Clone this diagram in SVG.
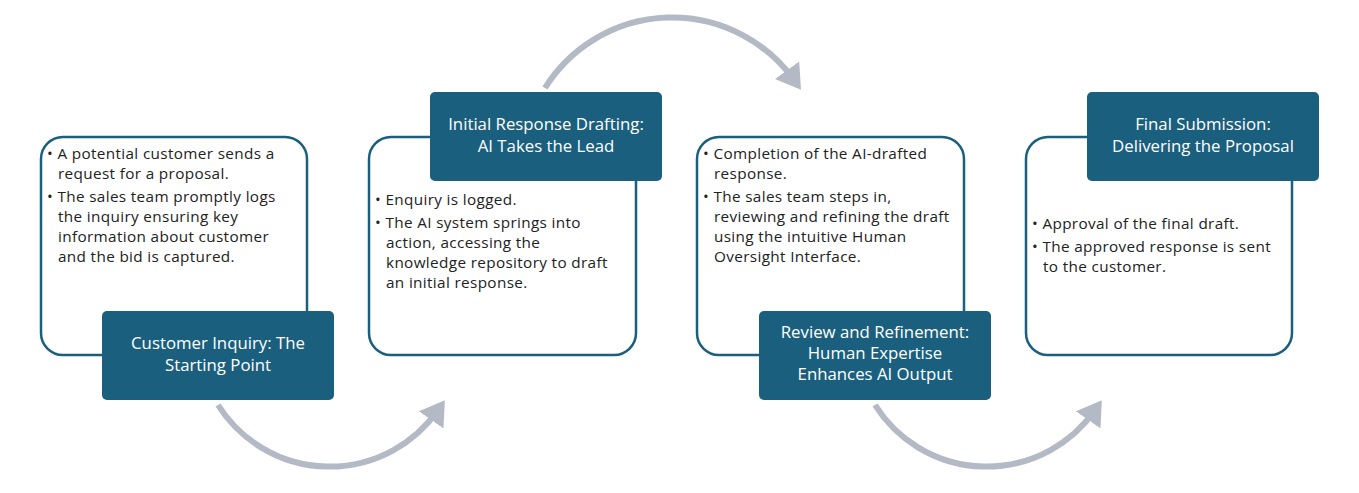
<svg xmlns="http://www.w3.org/2000/svg" width="1359" height="493" viewBox="0 0 1359 493">
<style>
.box{fill:#fff;stroke:#1b5f7e;stroke-width:2.5}
.lab{fill:#1b5f7e}
.t{font-family:"Open Sans",sans-serif;font-size:15.3px;fill:#222;letter-spacing:0.35px}
.w{font-family:"Open Sans",sans-serif;font-size:16.8px;fill:#fff;text-anchor:middle}
.arc{fill:none;stroke:#b3bac5;stroke-width:6}
</style>
<defs><marker id="ah" markerWidth="5" markerHeight="5" refX="2" refY="2.5" orient="auto" markerUnits="strokeWidth"><path d="M0,0L4,2.5L0,5z" fill="#b3bac5"/></marker></defs>
<rect width="1359" height="493" fill="#fff"/>
<g id="connectors">
<path class="arc" d="M218,405 A132,132 0 0 0 438,410" marker-end="url(#ah)"/>
<path class="arc" d="M545,88 A150,150 0 0 1 794,80" marker-end="url(#ah)"/>
<path class="arc" d="M875,405 A132,132 0 0 0 1095,410" marker-end="url(#ah)"/>
</g>
<g id="n1">
<rect class="box" x="41" y="137" width="266" height="218" rx="22"/>
<rect class="lab" x="102" y="311" width="232" height="89" rx="5"/>
<text class="t"><tspan x="47" y="159">• A potential customer sends a</tspan><tspan x="58" y="179">request for a proposal.</tspan><tspan x="47" y="202">• The sales team promptly logs</tspan><tspan x="58" y="222">the inquiry ensuring key</tspan><tspan x="58" y="242">information about customer</tspan><tspan x="58" y="262">and the bid is captured.</tspan></text>
<text class="w"><tspan x="218" y="349">Customer Inquiry: The</tspan><tspan x="218" y="371">Starting Point</tspan></text>
</g>
<g id="n2">
<rect class="box" x="369" y="137" width="267" height="218" rx="22"/>
<rect class="lab" x="430" y="92" width="232" height="89" rx="5"/>
<text class="t"><tspan x="375" y="205">• Enquiry is logged.</tspan><tspan x="375" y="228">• The AI system springs into</tspan><tspan x="386" y="248">action, accessing the</tspan><tspan x="386" y="268">knowledge repository to draft</tspan><tspan x="386" y="288">an initial response.</tspan></text>
<text class="w"><tspan x="546" y="130">Initial Response Drafting:</tspan><tspan x="546" y="152">AI Takes the Lead</tspan></text>
</g>
<g id="n3">
<rect class="box" x="697" y="137" width="267" height="218" rx="22"/>
<rect class="lab" x="759" y="311" width="232" height="89" rx="5"/>
<text class="t"><tspan x="703" y="159">• Completion of the AI-drafted</tspan><tspan x="714" y="179">response.</tspan><tspan x="703" y="202">• The sales team steps in,</tspan><tspan x="714" y="222">reviewing and refining the draft</tspan><tspan x="714" y="242">using the intuitive Human</tspan><tspan x="714" y="262">Oversight Interface.</tspan></text>
<text class="w"><tspan x="875" y="338">Review and Refinement:</tspan><tspan x="875" y="359">Human Expertise</tspan><tspan x="875" y="380">Enhances AI Output</tspan></text>
</g>
<g id="n4">
<rect class="box" x="1026" y="137" width="266" height="218" rx="22"/>
<rect class="lab" x="1087" y="92" width="232" height="89" rx="5"/>
<text class="t"><tspan x="1032" y="229">• Approval of the final draft.</tspan><tspan x="1032" y="252">• The approved response is sent</tspan><tspan x="1043" y="272">to the customer.</tspan></text>
<text class="w"><tspan x="1203" y="130">Final Submission:</tspan><tspan x="1203" y="152">Delivering the Proposal</tspan></text>
</g>
</svg>
